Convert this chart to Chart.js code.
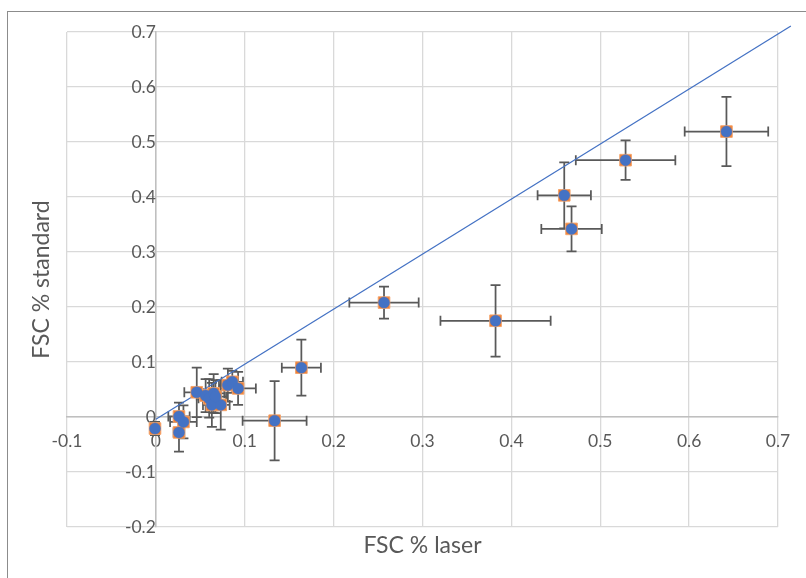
<!DOCTYPE html>
<html>
<head>
<meta charset="utf-8">
<script src="https://cdn.jsdelivr.net/npm/chart.js@4.4.1/dist/chart.umd.min.js"></script>
<style>
  body { margin: 0; overflow: hidden; background: #fff; }
  #wrap { position: relative; width: 806px; height: 578px; overflow: hidden; }
  #frame { position: absolute; left: 7px; top: 11px; width: 900px; height: 700px; border: 1px solid #8c8c8c; }
  canvas { position: absolute; left: 0; top: 0; }
</style>
</head>
<body>
<div id="wrap">
  <div id="frame"></div>
  <canvas id="myChart" width="806" height="578"></canvas>
</div>
<script>
// FSC % laser (x) against FSC % standard (y), each point with +/- error
const laser       = [0.642, 0.5285, 0.4595, 0.4677, 0.3822, 0.2567, 0.1637, 0.1336, -0.001, 0.026, 0.031, 0.026, 0.046, 0.056, 0.060, 0.065, 0.063, 0.073, 0.067, 0.081, 0.086, 0.0925];
const standard    = [0.519, 0.467, 0.403, 0.342, 0.175, 0.208, 0.0897, -0.0067, -0.021, 0.001, -0.009, -0.028, 0.045, 0.039, 0.034, 0.043, 0.022, 0.022, 0.037, 0.058, 0.064, 0.052];
const laserErr    = [0.047, 0.056, 0.030, 0.034, 0.062, 0.039, 0.022, 0.036, 0.004, 0.012, 0.015, 0.006, 0.014, 0.010, 0.012, 0.012, 0.010, 0.010, 0.012, 0.010, 0.012, 0.020];
const standardErr = [0.063, 0.036, 0.060, 0.041, 0.065, 0.029, 0.051, 0.072, 0.012, 0.025, 0.030, 0.035, 0.045, 0.030, 0.035, 0.035, 0.040, 0.045, 0.030, 0.030, 0.020, 0.030];

// 1:1 reference line
const lineX = [0, 0.7145];
const lineY = [-0.004, 0.711];

const xTicks = [-0.1, 0, 0.1, 0.2, 0.3, 0.4, 0.5, 0.6, 0.7];
const xTickLabels = ['-0.1', '0', '0.1', '0.2', '0.3', '0.4', '0.5', '0.6', '0.7'];
const yTicks = [-0.2, -0.1, 0, 0.1, 0.2, 0.3, 0.4, 0.5, 0.6, 0.7];
const yTickLabels = ['-0.2', '-0.1', '0', '0.1', '0.2', '0.3', '0.4', '0.5', '0.6', '0.7'];

const points = laser.map((x, i) => ({ x: x, y: standard[i] }));
const linePoints = lineX.map((x, i) => ({ x: x, y: lineY[i] }));

Chart.defaults.font.family = 'Lato';
Chart.defaults.color = '#595959';

// error bars with caps, drawn under the markers
const errorBars = {
    id: 'errorBars',
    beforeDatasetsDraw(chart) {
        const ctx = chart.ctx;
        const xs = chart.scales.x, ys = chart.scales.y;
        const cap = 5;
        ctx.save();
        ctx.strokeStyle = '#595959';
        ctx.lineWidth = 1.75;
        laser.forEach((lx, i) => {
            const px = xs.getPixelForValue(lx);
            const py = ys.getPixelForValue(standard[i]);
            const x0 = xs.getPixelForValue(lx - laserErr[i]);
            const x1 = xs.getPixelForValue(lx + laserErr[i]);
            const y0 = ys.getPixelForValue(standard[i] - standardErr[i]);
            const y1 = ys.getPixelForValue(standard[i] + standardErr[i]);
            ctx.beginPath();
            ctx.moveTo(x0, py); ctx.lineTo(x1, py);
            ctx.moveTo(x0, py - cap); ctx.lineTo(x0, py + cap);
            ctx.moveTo(x1, py - cap); ctx.lineTo(x1, py + cap);
            ctx.moveTo(px, y0); ctx.lineTo(px, y1);
            ctx.moveTo(px - cap, y0); ctx.lineTo(px + cap, y0);
            ctx.moveTo(px - cap, y1); ctx.lineTo(px + cap, y1);
            ctx.stroke();
        });
        ctx.restore();
    }
};

// axis titles, centred on the plot area
const axisTitles = {
    id: 'axisTitles',
    afterDraw(chart) {
        const ctx = chart.ctx;
        const a = chart.chartArea;
        ctx.save();
        ctx.fillStyle = '#595959';
        ctx.font = '23px Lato';
        ctx.textAlign = 'center';
        ctx.textBaseline = 'middle';
        ctx.fillText('FSC % laser', (a.left + a.right) / 2, a.bottom + 19);
        ctx.translate(42, (a.top + a.bottom) / 2);
        ctx.rotate(-Math.PI / 2);
        ctx.fillText('FSC % standard', 0, 0);
        ctx.restore();
    }
};

const ctx = document.getElementById('myChart').getContext('2d');
const myChart = new Chart(ctx, {
    type: 'scatter',
    data: {
        datasets: [
            {
                label: 'circles',
                data: points,
                pointStyle: 'circle',
                pointRadius: 5.5,
                backgroundColor: '#4472c4',
                borderColor: '#4472c4',
                borderWidth: 0.5
            },
            {
                label: 'squares',
                data: points,
                pointStyle: 'rect',
                pointRadius: 8.2,
                backgroundColor: '#ed7d31',
                borderColor: '#f4a46c',
                borderWidth: 1
            },
            {
                label: '1:1',
                data: linePoints,
                showLine: true,
                pointRadius: 0,
                borderColor: '#4472c4',
                borderWidth: 1.25,
                clip: false
            }
        ]
    },
    options: {
        responsive: false,
        animation: false,
        layout: {
            padding: { left: 67, top: 32, right: 28, bottom: 51 }
        },
        plugins: {
            legend: { display: false },
            tooltip: { enabled: false }
        },
        scales: {
            x: {
                type: 'linear',
                min: -0.1,
                max: 0.7,
                position: { y: 0 },
                afterBuildTicks: s => { s.ticks = xTicks.map(v => ({ value: v })); },
                ticks: {
                    callback: (v, i) => xTickLabels[i],
                    padding: 14,
                    color: '#595959',
                    font: { size: 17.5 },
                    maxRotation: 0
                },
                grid: { color: '#d9d9d9', lineWidth: 1.3, drawTicks: false },
                border: { color: '#bfbfbf', width: 1.5 }
            },
            y: {
                type: 'linear',
                min: -0.2,
                max: 0.7,
                position: { x: 0 },
                afterBuildTicks: s => { s.ticks = yTicks.map(v => ({ value: v })); },
                ticks: {
                    callback: (v, i) => yTickLabels[i],
                    padding: 17,
                    color: '#595959',
                    font: { size: 17.5 }
                },
                grid: { color: '#d9d9d9', lineWidth: 1.3, drawTicks: false },
                border: { color: '#bfbfbf', width: 1.5 }
            }
        }
    },
    plugins: [errorBars, axisTitles]
});
</script>
</body>
</html>
